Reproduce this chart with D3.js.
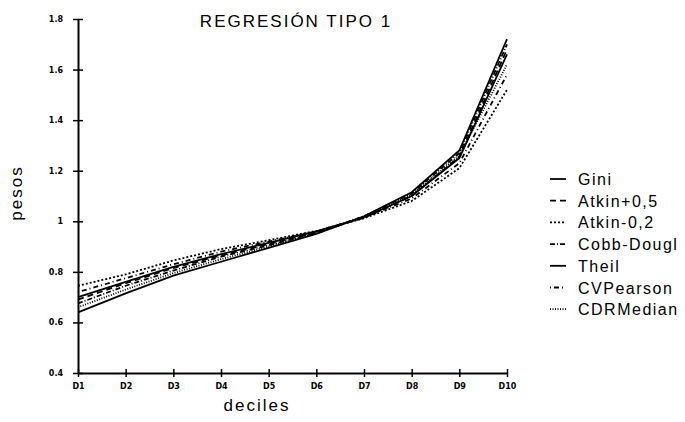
<!DOCTYPE html>
<html>
<head>
<meta charset="utf-8">
<script src="https://cdn.jsdelivr.net/npm/d3@7"></script>
<style>
  body { margin: 0; background: #fff; }
  svg { display: block; font-family: "Liberation Sans", Arial, sans-serif; }
  .tick text { font-family: "DejaVu Sans", sans-serif; font-weight: bold; font-size: 8px; }
</style>
</head>
<body>
<script>
// chart data
const deciles = ["D1", "D2", "D3", "D4", "D5", "D6", "D7", "D8", "D9", "D10"];
const yTicks = [0.4, 0.6, 0.8, 1, 1.2, 1.4, 1.6, 1.8];
const gini       = [0.700, 0.760, 0.820, 0.870, 0.915, 0.960, 1.015, 1.100, 1.250, 1.660];
const atkinP05   = [0.690, 0.755, 0.815, 0.865, 0.910, 0.955, 1.015, 1.100, 1.255, 1.680];
const atkinM02   = [0.745, 0.790, 0.845, 0.890, 0.925, 0.962, 1.012, 1.080, 1.210, 1.520];
const cobbDougl  = [0.675, 0.745, 0.805, 0.860, 0.905, 0.955, 1.020, 1.110, 1.270, 1.700];
const theil      = [0.640, 0.715, 0.785, 0.840, 0.895, 0.950, 1.020, 1.115, 1.280, 1.720];
const cvPearson  = [0.720, 0.775, 0.830, 0.880, 0.920, 0.960, 1.015, 1.090, 1.230, 1.580];
const cdrMedian  = [0.660, 0.730, 0.795, 0.850, 0.900, 0.952, 1.018, 1.105, 1.260, 1.620];

const seriesNames = ["Gini", "Atkin+0,5", "Atkin-0,2", "Cobb-Dougl", "Theil", "CVPearson", "CDRMedian"];
const seriesValues = [gini, atkinP05, atkinM02, cobbDougl, theil, cvPearson, cdrMedian];
const dashes = [null, "6,4", "2,2", "5,2,1,2", null, "1,3,5,3", "1,1.5"];

const width = 685, height = 422;
const plotLeft = 78, plotRight = 507, plotTop = 19, plotBottom = 373;

const svg = d3.select("body").append("svg")
    .attr("width", width)
    .attr("height", height);

const x = d3.scalePoint().domain(deciles).range([plotLeft, plotRight]);
const y = d3.scaleLinear().domain([0.4, 1.8]).range([plotBottom, plotTop]);

// axes
const xAxis = d3.axisBottom(x).tickSizeInner(4).tickSizeOuter(0).tickPadding(6);
const gx = svg.append("g")
    .attr("transform", "translate(0," + plotBottom + ")")
    .call(xAxis);
gx.select(".domain").attr("stroke-width", 2);
gx.selectAll(".tick line").attr("y1", -4).attr("stroke-width", 1.5);

const yAxis = d3.axisLeft(y).tickValues(yTicks)
    .tickFormat(d => d === 1 ? "1" : d3.format(".1f")(d))
    .tickSizeInner(5).tickSizeOuter(0).tickPadding(10);
const gy = svg.append("g")
    .attr("transform", "translate(" + plotLeft + ",0)")
    .call(yAxis);
gy.select(".domain").attr("stroke-width", 2);
gy.selectAll(".tick line").attr("x2", 5).attr("x1", -5).attr("stroke-width", 1.5);

// lines
const line = d3.line()
    .x((d, i) => x(deciles[i]))
    .y(d => y(d));

seriesValues.forEach((vals, k) => {
    svg.append("path")
        .datum(vals)
        .attr("fill", "none")
        .attr("stroke", "#000")
        .attr("stroke-width", 1.8)
        .attr("stroke-dasharray", dashes[k])
        .attr("d", line);
});

// title and axis labels
svg.append("text")
    .attr("x", 296).attr("y", 27)
    .attr("text-anchor", "middle")
    .style("font-size", "17px").style("letter-spacing", "2px")
    .text("REGRESIÓN TIPO 1");

svg.append("text")
    .attr("x", 257).attr("y", 411)
    .attr("text-anchor", "middle")
    .style("font-size", "17px").style("letter-spacing", "2px")
    .text("deciles");

svg.append("text")
    .attr("transform", "translate(22,193) rotate(-90)")
    .attr("text-anchor", "middle")
    .style("font-size", "17px").style("letter-spacing", "2px")
    .text("pesos");

// legend
const legend = svg.append("g");
seriesNames.forEach((name, k) => {
    const ly = 179 + k * 21.7;
    legend.append("line")
        .attr("x1", 550).attr("x2", 566)
        .attr("y1", ly).attr("y2", ly)
        .attr("stroke", "#000").attr("stroke-width", 1.8)
        .attr("stroke-dasharray", dashes[k]);
    legend.append("text")
        .attr("x", 578).attr("y", ly + 6)
        .style("font-size", "16px").style("letter-spacing", "1.5px")
        .text(name);
});
</script>
</body>
</html>
